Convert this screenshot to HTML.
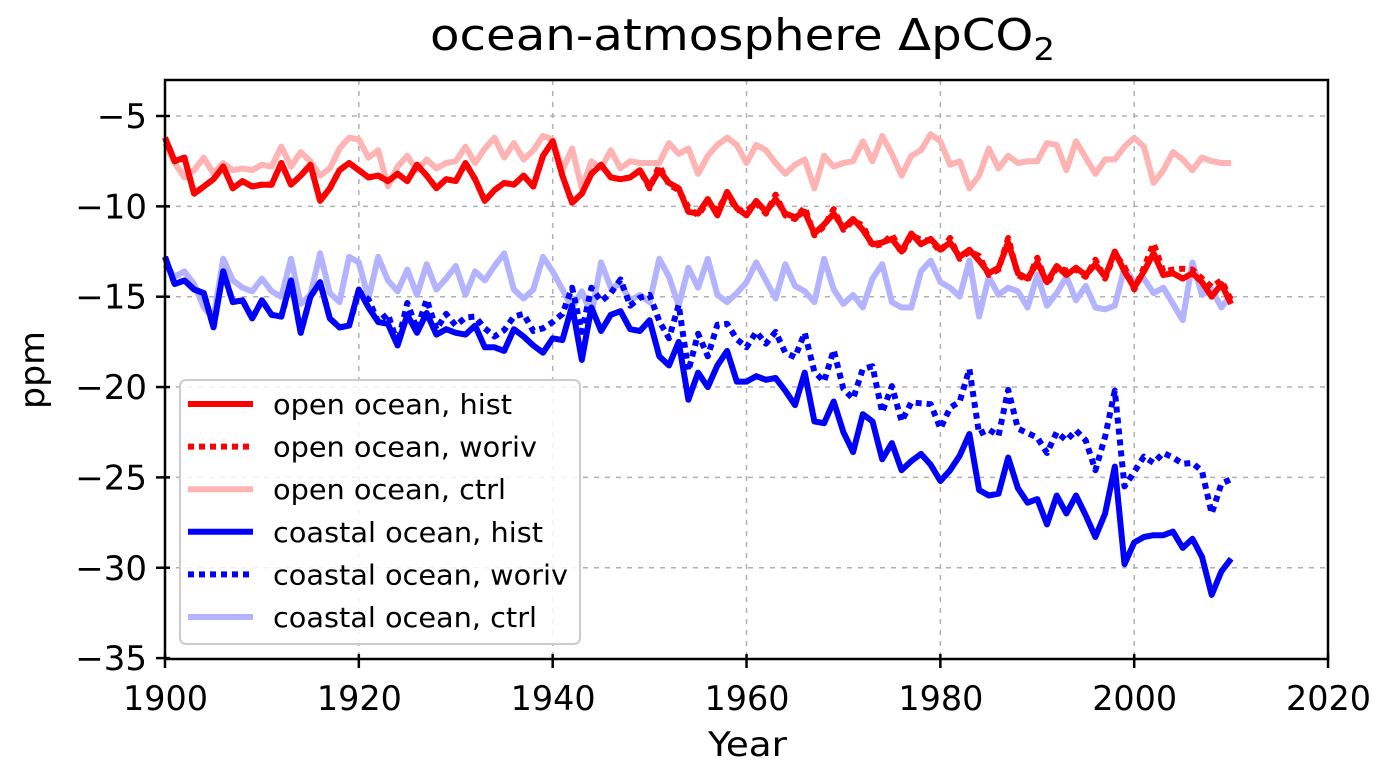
<!DOCTYPE html>
<html><head><meta charset="utf-8"><style>
body{margin:0;background:#fff;width:1380px;height:766px;overflow:hidden}
svg text{font-family:"DejaVu Sans","Liberation Sans",sans-serif;fill:#000}
</style></head><body>
<svg id="s" width="1380" height="766" xmlns="http://www.w3.org/2000/svg">
<text x="430" y="50" style="font-size:44px" textLength="625" lengthAdjust="spacingAndGlyphs">ocean-atmosphere ΔpCO<tspan style="font-size:31px" dy="10">2</tspan></text>
<g id="grid" stroke="#b0b0b0" stroke-width="1.5" stroke-dasharray="5,6"></g>
<g id="series" fill="none" stroke-linejoin="round"></g>
<rect x="165" y="80" width="1163" height="579" fill="none" stroke="#000" stroke-width="2.5"/>
<g id="ticks"></g>
<text x="708" y="756" style="font-size:34px" textLength="79" lengthAdjust="spacingAndGlyphs">Year</text>
<text x="0" y="0" style="font-size:34px" textLength="78" lengthAdjust="spacingAndGlyphs" transform="translate(44,409) rotate(-90)">ppm</text>
<rect x="180" y="380" width="400" height="264" rx="6" fill="#fff" fill-opacity="0.85" stroke="#ccc" stroke-width="2"/>
<g id="leg"></g>
</svg>
<script>
const X=y=>165+(y-1900)*9.692, Y=v=>116+(-5-v)*18.07;
const NS="http://www.w3.org/2000/svg";
function el(p,t,a,txt){const e=document.createElementNS(NS,t);for(const k in a)e.setAttribute(k,a[k]);if(txt!==undefined)e.textContent=txt;document.getElementById(p).appendChild(e);return e;}
for(let y=1920;y<=2000;y+=20)el("grid","line",{x1:X(y),x2:X(y),y1:80,y2:659});
for(let v=-30;v<=-5;v+=5)el("grid","line",{x1:165,x2:1328,y1:Y(v),y2:Y(v)});
for(let y=1900;y<=2020;y+=20){el("ticks","line",{x1:X(y),x2:X(y),y1:654,y2:668,stroke:"#000","stroke-width":2.5});el("ticks","text",{x:X(y)-42,y:710,style:"font-size:34px",textLength:85,lengthAdjust:"spacingAndGlyphs"},y);}
for(let v=-35;v<=-5;v+=5){el("ticks","line",{x1:156,x2:170,y1:Y(v),y2:Y(v),stroke:"#000","stroke-width":2.5});el("ticks","text",{x:147,y:Y(v)+12,style:"font-size:34px","text-anchor":"end"},"\u2212"+(-v));}
const oh=[-6.2,-7.5,-7.3,-9.3,-8.9,-8.5,-7.8,-9,-8.6,-8.9,-8.8,-8.8,-7.6,-8.8,-8.3,-7.7,-9.7,-9,-8,-7.6,-8.0,-8.4,-8.3,-8.6,-8.2,-8.6,-7.7,-8.3,-9.0,-8.5,-8.6,-7.6,-8.5,-9.7,-9.1,-8.7,-8.8,-8.3,-8.9,-7.2,-6.4,-8.3,-9.8,-9.3,-8.2,-7.7,-8.4,-8.5,-8.4,-8.0,-8.9,-8.0,-8.7,-9.0,-10.3,-10.4,-9.6,-10.5,-9.2,-10.1,-10.5,-9.7,-10.3,-9.6,-10.4,-10.6,-10.3,-11.5,-11.0,-10.4,-11.2,-10.7,-11.3,-12.1,-12.0,-11.8,-12.5,-11.5,-12.1,-11.8,-12.4,-12.0,-12.8,-12.4,-13.0,-13.7,-13.4,-12.0,-13.7,-14.0,-13.1,-14.2,-13.3,-13.8,-13.4,-13.8,-13.2,-13.9,-12.5,-13.6,-14.5,-13.6,-12.6,-13.8,-13.7,-14.0,-13.7,-14.2,-15.0,-14.3,-15.4];
const ow=oh.map((v,i)=>i<50?v:v+(i%3==0?0.25:-0.1)+(i>100?0.3:0));
const oc=[-6.5,-7.6,-8.4,-8.0,-7.3,-8.2,-7.6,-8.0,-7.9,-8.0,-7.7,-7.8,-6.7,-7.8,-7.0,-7.5,-8.3,-7.9,-6.8,-6.2,-6.3,-7.3,-6.9,-8.9,-7.8,-7.2,-8.0,-7.4,-7.9,-7.6,-7.5,-6.7,-7.6,-6.8,-6.2,-7.3,-6.5,-7.4,-6.9,-6.1,-6.3,-8.0,-6.8,-9.0,-7.5,-7.9,-6.9,-7.9,-7.5,-7.6,-7.6,-7.6,-6.5,-7.1,-6.8,-8.2,-7.2,-6.6,-6.2,-6.6,-7.6,-6.6,-6.9,-7.6,-8.2,-7.7,-7.4,-9.0,-7.2,-7.8,-7.6,-7.5,-6.4,-7.5,-6.1,-7.1,-8.3,-7.2,-6.9,-6.0,-6.4,-7.7,-7.5,-9.0,-8.3,-6.8,-7.9,-7.2,-7.6,-7.5,-7.5,-6.5,-6.6,-8.0,-6.4,-7.3,-8.2,-7.4,-7.4,-6.7,-6.2,-6.7,-8.7,-8.0,-7.0,-7.4,-8.0,-7.3,-7.5,-7.6,-7.6];
const ch=[-12.8,-14.3,-14.1,-14.6,-14.8,-16.7,-13.6,-15.3,-15.2,-16.2,-15.2,-16.0,-16.1,-14.1,-17.0,-15.0,-14.2,-16.2,-16.7,-16.6,-14.6,-15.6,-16.4,-16.5,-17.7,-16.0,-17.0,-15.9,-17.1,-16.8,-17.0,-17.1,-16.6,-17.8,-17.8,-18.0,-16.8,-17.2,-17.7,-18.1,-17.3,-17.4,-15.5,-18.5,-15.6,-16.9,-16.0,-15.8,-16.8,-16.9,-16.3,-18.3,-18.8,-17.5,-20.7,-19.2,-20.0,-18.8,-18.0,-19.7,-19.7,-19.4,-19.6,-19.5,-20.2,-21.0,-19.2,-21.9,-22.0,-20.8,-22.5,-23.6,-21.5,-21.9,-24.0,-23.1,-24.6,-24.1,-23.7,-24.3,-25.2,-24.6,-23.8,-22.6,-25.7,-26.0,-25.9,-23.9,-25.6,-26.4,-26.2,-27.6,-26.0,-27.0,-26.0,-27.1,-28.3,-27.0,-24.4,-29.8,-28.6,-28.3,-28.2,-28.2,-28.0,-28.9,-28.4,-29.4,-31.5,-30.2,-29.5];
const cw=ch.map((v,i)=>{if(i<20)return v;let k=(i-20)/90*4.5;return v+k+(i%2?0.4:-0.1);});
const fix={98:-20.2,99:-25.5,83:-19.0,108:-27.0,58:-16.5};for(const k in fix)cw[k]=fix[k];
const cc=[-13.2,-13.9,-13.6,-14.3,-15.6,-16.2,-12.9,-14.1,-14.5,-14.7,-14.0,-14.7,-15.0,-12.9,-15.4,-14.9,-12.6,-14.8,-15.3,-12.8,-13.1,-15.1,-12.8,-14.1,-14.7,-13.5,-14.9,-13.2,-14.6,-14.0,-13.3,-14.9,-13.6,-14.1,-13.3,-12.6,-14.6,-15.1,-14.6,-12.8,-13.6,-14.6,-15.6,-14.7,-16.0,-13.1,-14.5,-14.3,-15.2,-14.9,-15.3,-12.9,-13.9,-15.5,-13.4,-14.5,-12.9,-14.9,-15.3,-14.8,-14.2,-13.1,-14.1,-15.1,-13.2,-14.4,-14.7,-15.3,-12.9,-14.6,-15.4,-14.9,-15.6,-14.0,-13.2,-15.3,-15.6,-15.6,-13.6,-13.0,-14.2,-14.5,-15.0,-13.0,-16.1,-13.9,-14.9,-14.5,-14.7,-15.6,-13.8,-15.5,-14.8,-13.9,-15.2,-14.4,-15.6,-15.7,-15.5,-13.4,-14.2,-14.0,-14.8,-14.5,-15.4,-16.3,-13.1,-14.9,-14.6,-15.6,-14.9];
function line(d,col,dash){const p=d.map((v,i)=>X(1900+i).toFixed(1)+","+Y(v).toFixed(1)).join(" ");const a={points:p,stroke:col,"stroke-width":6};if(dash)a["stroke-dasharray"]="6,5";el("series","polyline",a);}
line(oc,"#ffb3b3");line(cc,"#b3b3ff");line(ow,"#ff0000",1);line(oh,"#ff0000");line(cw,"#0000ff",1);line(ch,"#0000ff");
const L=[["open ocean, hist","#ff0000",0,239],["open ocean, woriv","#ff0000",1,264],["open ocean, ctrl","#ffb3b3",0,233],["coastal ocean, hist","#0000ff",0,270],["coastal ocean, woriv","#0000ff",1,295],["coastal ocean, ctrl","#b3b3ff",0,264]];
L.forEach((l,i)=>{const y=404+i*42.6;const a={x1:188,x2:253,y1:y,y2:y,stroke:l[1],"stroke-width":6};if(l[2])a["stroke-dasharray"]="6,5";el("leg","line",a);el("leg","text",{x:273,y:y+10,style:"font-size:28px",textLength:l[3],lengthAdjust:"spacingAndGlyphs"},l[0]);});
</script>
</body></html>
